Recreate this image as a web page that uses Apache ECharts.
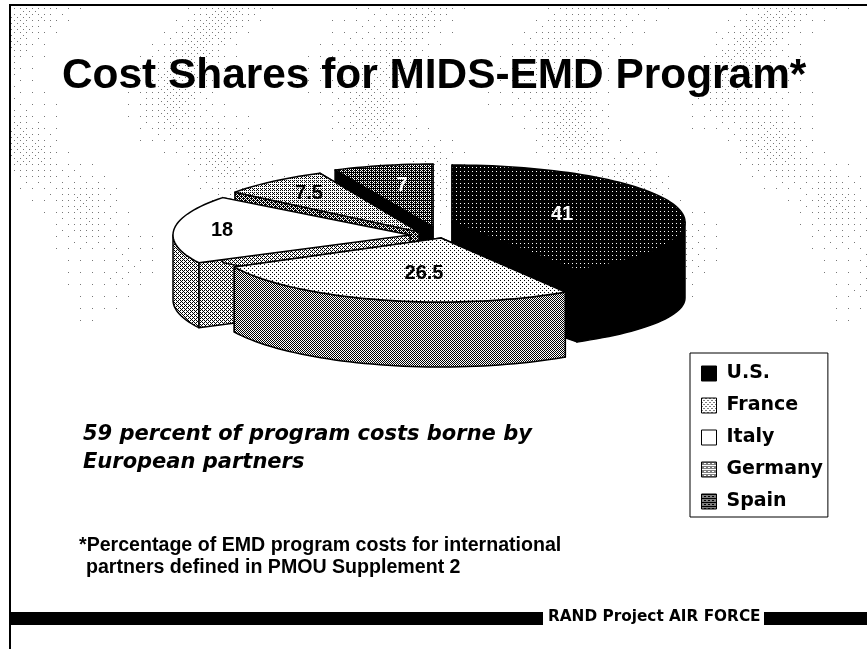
<!DOCTYPE html>
<html>
<head>
<meta charset="utf-8">
<style>
    html, body { margin: 0; padding: 0; background: #fff; }
    #chart { width: 867px; height: 649px; }
</style>
</head>
<body>
<div id="chart"></div>
<script src="https://cdn.jsdelivr.net/npm/echarts@6/dist/echarts.min.js"></script>
<script>
    var countries = ['U.S.', 'France', 'Italy', 'Germany', 'Spain'];
    var shares = [41, 26.5, 18, 7.5, 7];

    var wedges = [
        {cx: 452, cy: 222, a: 233, b: 57, depth: 76, bottomB: 52, z: 5, labelX: 562, labelY: 214},
        {cx: 441, cy: 238, a: 232, b: 64, depth: 65, bottomB: 64, z: 6, labelX: 424, labelY: 273},
        {cx: 410, cy: 235, a: 237, b: 61, depth: 65, bottomB: 61, z: 4, labelX: 222, labelY: 230},
        {cx: 419, cy: 232, a: 233, b: 65, depth: 65, bottomB: 65, z: 3, labelX: 309, labelY: 193},
        {cx: 433, cy: 227, a: 230, b: 63, depth: 65, bottomB: 63, z: 2, labelX: 402, labelY: 185}
    ];

    var bayer = [[0, 8, 2, 10], [12, 4, 14, 6], [3, 11, 1, 9], [15, 7, 13, 5]];

    function dither(level) {
        var c = document.createElement('canvas');
        c.width = c.height = 4;
        var ctx = c.getContext('2d');
        ctx.fillStyle = '#fff';
        ctx.fillRect(0, 0, 4, 4);
        ctx.fillStyle = '#000';
        for (var y = 0; y < 4; y++) {
            for (var x = 0; x < 4; x++) {
                if ((bayer[y][x] + 0.5) / 16 < level) ctx.fillRect(x, y, 1, 1);
            }
        }
        return {image: c, repeat: 'repeat'};
    }

    var topFill = [dither(0.95), dither(0.13), '#fff', dither(0.32), dither(0.7)];
    var sideFill = ['#000', dither(0.5), dither(0.38), dither(0.6), '#000'];
    var legendFill = ['#000', dither(0.13), '#fff', dither(0.32), dither(0.7)];

    // faint halftone clouds behind the upper part of the slide
    function slideBackground() {
        var c = document.createElement('canvas');
        c.width = 867;
        c.height = 649;
        var ctx = c.getContext('2d');
        ctx.fillStyle = '#fff';
        ctx.fillRect(0, 0, 867, 649);
        ctx.fillStyle = '#777';
        for (var y = 8; y < 340; y += 3) {
            for (var x = 11; x < 867; x += 3) {
                var fade = y < 150 ? 1 : (340 - y) / 190;
                var band = 0.5 + 0.5 * Math.sin(x / 30 + 2 * Math.sin(y / 55));
                var patch = 0.5 + 0.5 * Math.sin(y / 23 + x / 17);
                var d = (band * band * band * 0.5 + 0.03) * (0.35 + 0.65 * patch) * fade;
                if ((bayer[y % 4][x % 4] + 0.5) / 16 < d) ctx.fillRect(x, y, 1, 1);
            }
        }
        return {image: c, repeat: 'no-repeat'};
    }

    function rim(w, deg, down) {
        var t = deg * Math.PI / 180;
        var b = down ? w.bottomB : w.b;
        return [w.cx + w.a * Math.sin(t), w.cy + (down ? w.depth : 0) - b * Math.cos(t)];
    }

    function arc(w, from, to, down) {
        var pts = [];
        var n = Math.max(2, Math.ceil(Math.abs(to - from) / 2));
        for (var i = 0; i <= n; i++) pts.push(rim(w, from + (to - from) * i / n, down));
        return pts;
    }

    function poly(points, fill) {
        return {
            type: 'polygon',
            shape: {points: points},
            style: {fill: fill, stroke: '#000', lineWidth: 1.5, lineJoin: 'round'}
        };
    }

    function wall(w, deg, fill) {
        var apexDown = [w.cx, w.cy + w.depth];
        return poly([[w.cx, w.cy], rim(w, deg, false), rim(w, deg, true), apexDown], fill);
    }

    function sliceItem(idx) {
        return function (params, api) {
            var w = wedges[idx];
            var total = shares.reduce(function (s, v) { return s + v; }, 0);
            var before = shares.slice(0, idx).reduce(function (s, v) { return s + v; }, 0);
            var a0 = before / total * 360;
            var a1 = a0 + api.value(0) / total * 360;
            var children = [wall(w, a0, sideFill[idx]), wall(w, a1, sideFill[idx])];
            var f0 = Math.max(a0, 90), f1 = Math.min(a1, 270);
            if (f1 > f0) {
                children.push(poly(arc(w, f0, f1, false).concat(arc(w, f1, f0, true)), sideFill[idx]));
            }
            children.push(poly([[w.cx, w.cy]].concat(arc(w, a0, a1, false)), topFill[idx]));
            children.push({
                type: 'text',
                style: {
                    text: String(api.value(0)),
                    x: w.labelX,
                    y: w.labelY,
                    align: 'center',
                    verticalAlign: 'middle',
                    fill: idx === 0 || idx === 4 ? '#fff' : '#000',
                    font: 'bold 20px "Liberation Sans"'
                }
            });
            return {type: 'group', children: children};
        };
    }

    var chart = echarts.init(document.getElementById('chart'), null, {renderer: 'canvas'});

    function text(str, left, top, size, family, style) {
        return {
            text: str,
            left: left,
            top: top,
            padding: 0,
            textStyle: {
                fontFamily: family,
                fontSize: size,
                fontStyle: style || 'normal',
                fontWeight: 'bold',
                color: '#000'
            }
        };
    }

    chart.setOption({
        animation: false,
        backgroundColor: slideBackground(),
        title: [
            text('Cost Shares for MIDS-EMD Program*', 62, 55, 42.4, 'Liberation Sans'),
            text('59 percent of program costs borne by', 83, 424, 21, 'DejaVu Sans', 'italic'),
            text('European partners', 83, 452, 21, 'DejaVu Sans', 'italic'),
            text('*Percentage of EMD program costs for international', 79, 536, 19.6, 'Liberation Sans'),
            text('partners defined in PMOU Supplement 2', 86, 558, 19.6, 'Liberation Sans'),
            text('RAND Project AIR FORCE', 548, 610, 15.3, 'DejaVu Sans')
        ],
        legend: {
            left: 690,
            top: 353,
            orient: 'vertical',
            padding: [11, 5, 6, 11],
            itemWidth: 15,
            itemHeight: 15,
            itemGap: 13,
            icon: 'rect',
            selectedMode: false,
            backgroundColor: '#fff',
            borderColor: '#000',
            borderWidth: 1,
            itemStyle: {borderColor: '#000', borderWidth: 1},
            textStyle: {fontFamily: 'DejaVu Sans', fontWeight: 'bold', fontSize: 19, lineHeight: 15, color: '#000', padding: [4, 0, 0, 5]},
            data: countries
        },
        series: countries.map(function (name, i) {
            return {
                type: 'custom',
                name: name,
                z: wedges[i].z,
                coordinateSystem: 'none',
                silent: true,
                itemStyle: {color: legendFill[i]},
                renderItem: sliceItem(i),
                data: [[shares[i]]]
            };
        }),
        graphic: [
            {type: 'rect', shape: {x: 9, y: 4, width: 858, height: 2}, style: {fill: '#000'}},
            {type: 'rect', shape: {x: 9, y: 4, width: 2, height: 645}, style: {fill: '#000'}},
            {type: 'rect', shape: {x: 9, y: 612, width: 534, height: 13}, style: {fill: '#000'}},
            {type: 'rect', shape: {x: 764, y: 612, width: 103, height: 13}, style: {fill: '#000'}}
        ]
    });
</script>
</body>
</html>
